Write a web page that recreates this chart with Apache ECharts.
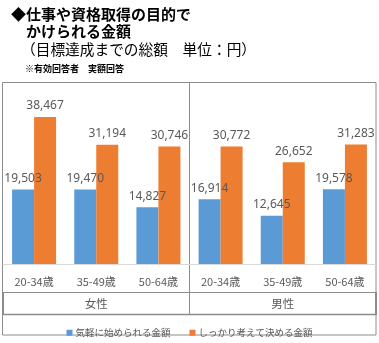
<!DOCTYPE html>
<html>
<head>
<meta charset="utf-8">
<script src="https://cdn.jsdelivr.net/npm/echarts@6/dist/echarts.min.js"></script>
<style>
html,body{margin:0;padding:0;background:#fff;}
#c{width:379px;height:343px;}
</style>
</head>
<body>
<div id="c"></div>
<script>
const ageLabels = ['20-34歳','35-49歳','50-64歳','20-34歳','35-49歳','50-64歳'];
const groupLabels = ['女性','男性'];
const casualName = '気軽に始められる金額';
const plannedName = 'しっかり考えて決める金額';
const casualValues = [19503, 19470, 14827, 16914, 12645, 19578];
const plannedValues = [38467, 31194, 30746, 30772, 26652, 31283];

const chart = echarts.init(document.getElementById('c'), null, {renderer:'canvas'});
const JP = '"Noto Sans CJK JP", "Noto Sans", sans-serif';
const numFmt = p => p.value.toLocaleString('en-US');
const frame = '#8c8c8c';

chart.setOption({
  animation:false,
  backgroundColor:'#fff',
  grid:{left:3,right:3,top:92,bottom:79,containLabel:false},
  xAxis:[
    {type:'category',data:ageLabels,
     axisLine:{show:true,lineStyle:{color:'#d9d9d9',width:1}},
     axisTick:{show:false},
     axisLabel:{color:'#595959',fontSize:11,fontFamily:JP,margin:12}},
    {type:'category',data:groupLabels,position:'bottom',offset:34,
     axisLine:{show:false},axisTick:{show:false},
     axisLabel:{color:'#595959',fontSize:11.5,fontFamily:JP,margin:0}}
  ],
  yAxis:{type:'value',min:0,max:45000,show:false,splitLine:{show:false}},
  legend:{
    data:[casualName,plannedName],
    top:323,left:'center',
    icon:'rect',itemWidth:6,itemHeight:6,itemGap:19,
    textStyle:{color:'#595959',fontSize:9.5,fontFamily:JP,padding:[0,0,0,-2]}
  },
  series:[
    {name:casualName,type:'bar',data:casualValues,barWidth:22,barGap:'0%',
     itemStyle:{color:'#5B9BD5'},
     label:{show:true,position:'top',distance:5,color:'#595959',fontSize:12,fontFamily:'"Noto Sans", sans-serif',formatter:numFmt}},
    {name:plannedName,type:'bar',data:plannedValues,barWidth:22,barGap:'0%',
     itemStyle:{color:'#ED7D31'},
     label:{show:true,position:'top',distance:5,color:'#595959',fontSize:12,fontFamily:'"Noto Sans", sans-serif',formatter:numFmt}}
  ],
  graphic:[
    {type:'text',left:11,top:7,style:{text:'◆仕事や資格取得の目的で',fill:'#000',font:'bold 15px "Noto Sans CJK JP"'}},
    {type:'text',left:26,top:24,style:{text:'かけられる金額',fill:'#000',font:'bold 15px "Noto Sans CJK JP"'}},
    {type:'text',left:21,top:42,style:{text:'（目標達成までの総額　単位：円）',fill:'#000',font:'14.7px "Noto Sans CJK JP"'}},
    {type:'text',left:25,top:64,style:{text:'※有効回答者　実額回答',fill:'#000',font:'bold 9px "Noto Sans CJK JP"'}},
    {type:'rect',shape:{x:2.5,y:82.5,width:373.5,height:252.5},style:{fill:'none',stroke:frame,lineWidth:1},silent:true},
    {type:'line',shape:{x1:189.5,y1:82,x2:189.5,y2:315},style:{stroke:frame,lineWidth:1},silent:true},
    {type:'line',shape:{x1:3,y1:292.5,x2:376,y2:292.5},style:{stroke:frame,lineWidth:1},silent:true},
    {type:'line',shape:{x1:3,y1:314.5,x2:376,y2:314.5},style:{stroke:frame,lineWidth:1.5},silent:true},
    {type:'line',shape:{x1:3,y1:292,x2:3,y2:315},style:{stroke:frame,lineWidth:2},silent:true},
    {type:'line',shape:{x1:376,y1:292,x2:376,y2:315},style:{stroke:frame,lineWidth:2},silent:true}
  ]
});
</script>
</body>
</html>
